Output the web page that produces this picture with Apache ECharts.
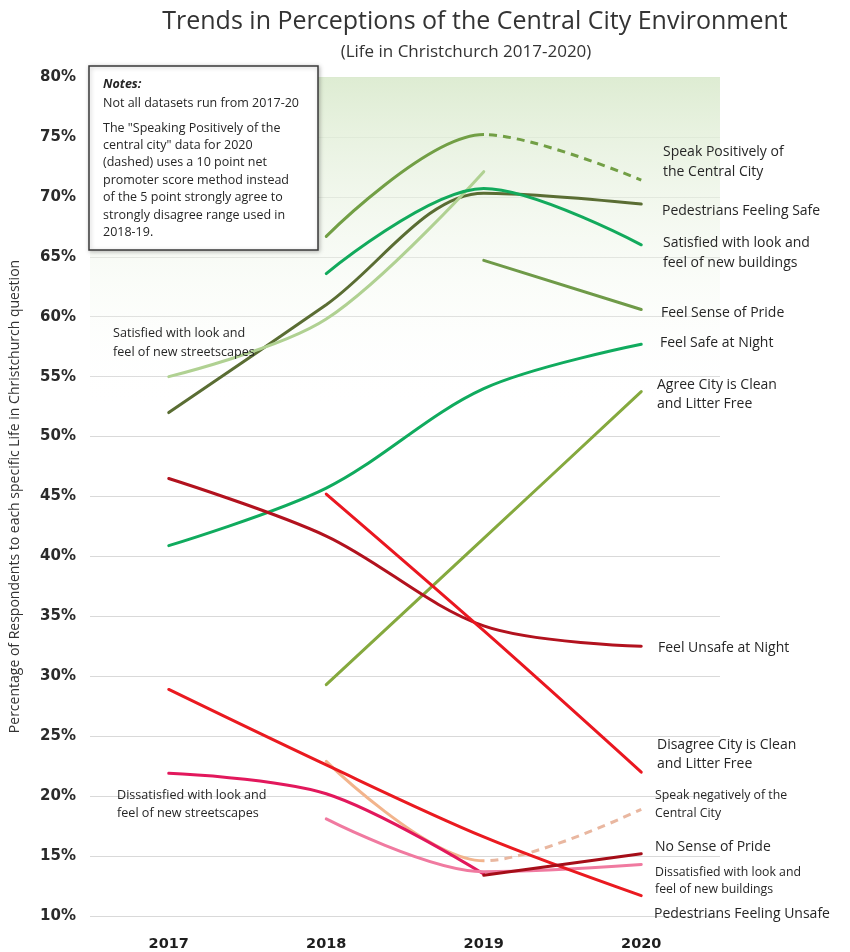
<!DOCTYPE html>
<html>
<head>
<meta charset="utf-8">
<script src="https://cdn.jsdelivr.net/npm/echarts@6/dist/echarts.min.js"></script>
<style>
  html, body { margin: 0; padding: 0; background: #ffffff; }
  #chart { width: 850px; height: 952px; }
</style>
</head>
<body>
<div id="chart"></div>
<script>
// Survey years (category axis)
const years = ['2017', '2018', '2019', '2020'];

// Positive perception series (% of respondents)
const pedestriansSafe        = [52.0, 61.0, 70.3, 69.4];
const speakPositively        = [null, 66.7, 75.2, 71.4];
const satisfiedBuildings     = [null, 63.6, 70.7, 66.0];
const senseOfPride           = [null, null, 64.7, 60.6];
const safeAtNight            = [40.9, 45.7, 54.0, 57.7];
const agreeClean             = [null, 29.3, 41.5, 53.75];
const satisfiedStreetscapes  = [55.0, 59.8, 72.1, null];

// Negative perception series (% of respondents)
const unsafeAtNight            = [46.5, 41.7, 34.2, 32.5];
const disagreeClean            = [null, 45.2, 33.8, 22.0];
const pedestriansUnsafe        = [28.9, 22.6, 16.6, 11.7];
const dissatisfiedStreetscapes = [21.9, 20.2, 13.5, null];
const dissatisfiedBuildings    = [null, 18.1, 13.7, 14.3];
const noSenseOfPride           = [null, null, 13.4, 15.2];
const speakNegatively          = [null, 22.9, 14.6, 18.9];

// Y axis range / step
const yMin = 10, yMax = 80, yStep = 5;

const SMOOTH = 0.33;
const LW = 3;

function line(name, data, color, extra) {
  return Object.assign({
    name: name,
    type: 'line',
    data: data,
    smooth: SMOOTH,
    showSymbol: false,
    symbol: 'none',
    connectNulls: false,
    silent: true,
    lineStyle: { color: color, width: LW, cap: 'round' },
    itemStyle: { color: color },
    emphasis: { disabled: true }
  }, extra || {});
}

// Speak series run 2018-2020; 2019 sits halfway along each path, so a
// hard-stop gradient at 0.5 splits the solid (2018-19) and dashed (2019-20) parts.
function halfGradient(color, firstHalf) {
  const clear = 'rgba(255,255,255,0)';
  const a = firstHalf ? color : clear;
  const b = firstHalf ? clear : color;
  return new echarts.graphic.LinearGradient(0, 0, 1, 0, [
    { offset: 0, color: a }, { offset: 0.5, color: a },
    { offset: 0.5, color: b }, { offset: 1, color: b }
  ]);
}

const cPos = '#729f45';
const cNeg = '#f2b48c', cNegDash = '#e9b7a0';

const series = [
  line('Pedestrians Feeling Safe', pedestriansSafe, '#5a6d33', {
    markArea: {
      silent: true,
      itemStyle: {
        color: new echarts.graphic.LinearGradient(0, 0, 0, 1, [
          { offset: 0, color: 'rgba(220,235,208,0.95)' },
          { offset: 1, color: 'rgba(255,255,255,0)' }
        ])
      },
      data: [[{ yAxis: 80 }, { yAxis: 52 }]]
    }
  }),
  line('Satisfied with look and feel of new streetscapes', satisfiedStreetscapes, '#b0d192'),
  line('Speak Positively of the Central City', speakPositively, cPos, {
    lineStyle: { color: halfGradient(cPos, true), width: LW, cap: 'round' }
  }),
  line('Speak Positively of the Central City (2020 method)', speakPositively, cPos, {
    lineStyle: { color: halfGradient(cPos, false), width: LW, type: [8, 6] }
  }),
  line('Satisfied with look and feel of new buildings', satisfiedBuildings, '#12aa5c'),
  line('Feel Sense of Pride', senseOfPride, '#6f9a48'),
  line('Feel Safe at Night', safeAtNight, '#10ab5e'),
  line('Agree City is Clean and Litter Free', agreeClean, '#85a93e'),
  line('Feel Unsafe at Night', unsafeAtNight, '#b2121e'),
  line('Disagree City is Clean and Litter Free', disagreeClean, '#ea1720'),
  line('Speak negatively of the Central City', speakNegatively, cNeg, {
    lineStyle: { color: halfGradient(cNeg, true), width: LW, cap: 'round' }
  }),
  line('Speak negatively of the Central City (2020 method)', speakNegatively, cNegDash, {
    lineStyle: { color: halfGradient(cNegDash, false), width: LW, type: [8, 6] }
  }),
  line('Dissatisfied with look and feel of new streetscapes', dissatisfiedStreetscapes, '#e2185c'),
  line('Dissatisfied with look and feel of new buildings', dissatisfiedBuildings, '#f07aa0'),
  line('Pedestrians Feeling Unsafe', pedestriansUnsafe, '#ea1a20'),
  line('No Sense of Pride', noSenseOfPride, '#a50d18')
];

const labelFont = '"Open Sans", sans-serif';
function txt(x, y, text, size, extra) {
  return Object.assign({
    type: 'text', x: x, y: y, z: 100,
    style: {
      text: text, fill: '#262626', fontSize: size || 14,
      fontFamily: labelFont, verticalAlign: 'middle', align: 'left'
    }
  }, extra || {});
}

const notesLines = [
  'The "Speaking Positively of the',
  'central city" data for 2020',
  '(dashed) uses a 10 point net',
  'promoter score method instead',
  'of the 5 point strongly agree to',
  'strongly disagree range used in',
  '2018-19.'
];

const graphic = [
  { type: 'text', x: 475, y: 22, z: 100,
    style: { text: 'Trends in Perceptions of the Central City Environment',
      fill: '#333333', fontSize: 25, fontFamily: labelFont, align: 'center', verticalAlign: 'middle' } },
  { type: 'text', x: 466, y: 52, z: 100,
    style: { text: '(Life in Christchurch 2017-2020)', fill: '#333333', fontSize: 17,
      fontFamily: labelFont, align: 'center', verticalAlign: 'middle' } },
  // Notes box
  { type: 'rect', z: 90, shape: { x: 89, y: 66, width: 229, height: 184 },
    style: { fill: '#ffffff', stroke: '#3a3a3a', lineWidth: 1.5,
      shadowBlur: 4, shadowColor: 'rgba(0,0,0,0.25)', shadowOffsetX: 1, shadowOffsetY: 1 } },
  txt(103, 84, 'Notes:', 12.5, { style: { text: 'Notes:', fill: '#262626', fontSize: 12.5,
      fontFamily: labelFont, fontWeight: 'bold', fontStyle: 'italic', verticalAlign: 'middle' } }),
  txt(103, 103, 'Not all datasets run from 2017-20', 12.5),
  ...notesLines.map((t, i) => txt(103, 128 + i * 17.4, t, 12.5)),
  // Right-hand labels
  txt(663, 152, 'Speak Positively of'),
  txt(663, 172, 'the Central City'),
  txt(662, 211, 'Pedestrians Feeling Safe'),
  txt(663, 243, 'Satisfied with look and'),
  txt(663, 263, 'feel of new buildings'),
  txt(661, 313, 'Feel Sense of Pride'),
  txt(660, 343, 'Feel Safe at Night'),
  txt(657, 385, 'Agree City is Clean'),
  txt(657, 404, 'and Litter Free'),
  txt(658, 648, 'Feel Unsafe at Night'),
  txt(657, 745, 'Disagree City is Clean'),
  txt(657, 764, 'and Litter Free'),
  txt(655, 795, 'Speak negatively of the', 12.3),
  txt(655, 813, 'Central City', 12.3),
  txt(655, 847, 'No Sense of Pride'),
  txt(655, 872, 'Dissatisfied with look and', 12.3),
  txt(655, 889, 'feel of new buildings', 12.3),
  txt(654, 914, 'Pedestrians Feeling Unsafe'),
  // Left-hand labels
  txt(113, 333, 'Satisfied with look and', 12.6),
  txt(113, 352, 'feel of new streetscapes', 12.6),
  txt(117, 795, 'Dissatisfied with look and', 12.6),
  txt(117, 813, 'feel of new streetscapes', 12.6)
];

const chart = echarts.init(document.getElementById('chart'), null, { renderer: 'canvas' });
chart.setOption({
  animation: false,
  backgroundColor: '#ffffff',
  grid: { left: 88, right: 130, top: 77, bottom: 35, containLabel: false },
  xAxis: {
    type: 'category',
    data: years,
    boundaryGap: true,
    axisLine: { show: false },
    axisTick: { show: false },
    axisLabel: { margin: 21, color: '#1e1e1e', fontSize: 14.5, fontWeight: 'bold',
      fontFamily: '"DejaVu Sans", sans-serif' }
  },
  yAxis: {
    type: 'value',
    min: yMin, max: yMax, interval: yStep,
    name: 'Percentage of Respondents to each specific Life in Christchurch question',
    nameLocation: 'middle',
    nameGap: 68,
    nameRotate: 90,
    nameTextStyle: { color: '#333333', fontSize: 14, fontFamily: labelFont },
    axisLine: { show: false },
    axisTick: { show: false },
    axisLabel: { formatter: '{value}%', margin: 14, color: '#2a2a2a', fontSize: 15,
      fontWeight: 'bold', fontFamily: '"DejaVu Sans", sans-serif' },
    splitLine: { lineStyle: { color: '#d9d9d9', width: 1 } }
  },
  series: series,
  graphic: graphic
});
</script>
</body>
</html>
